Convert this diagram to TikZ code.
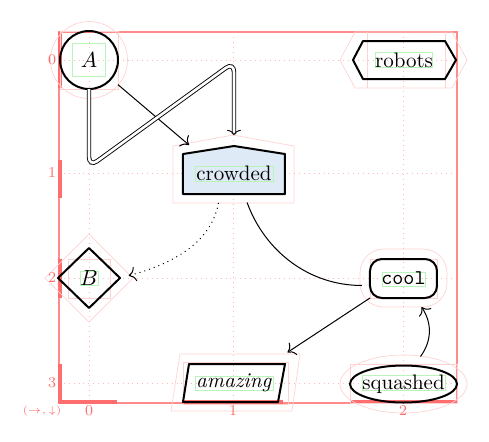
\documentclass[tikz,border=0pt]{standalone}
\usetikzlibrary{arrows.meta,backgrounds}
\definecolor{dbgred}{RGB}{255,110,110}
\definecolor{dbgpink}{RGB}{255,210,210}
\definecolor{dbggrid}{RGB}{255,185,185}
\definecolor{dbggreen}{RGB}{185,245,185}
\definecolor{housefill}{RGB}{222,235,247}
\begin{document}
\begin{tikzpicture}[x=0.5pt,y=-0.5pt,
  shapeline/.style={draw=black, line width=1pt, line join=round},
  dbg/.style={draw=dbgpink, line width=0.35pt},
  txtbox/.style={draw=dbggreen, line width=0.35pt},
  gridline/.style={draw=dbggrid, dotted, line width=0.45pt},
  framebar/.style={draw=dbgred, line width=1.7pt},
  edge/.style={draw=black, line width=0.5pt, -{To[scale=1.3]}},
  dbledge/.style={draw=black, double, double distance=1.3pt, line width=0.45pt, -{To[length=2.6pt,width=7pt]}},
  plainedge/.style={draw=black, line width=0.5pt},
  lbl/.style={text=dbgred, font=\fontsize{7.5}{8}\selectfont, inner sep=0},
  nd/.style={inner sep=0, outer sep=0, font=\fontsize{10.5}{12}\selectfont}]
\useasboundingbox (0,0) rectangle (489,441);

% ---- nodes (text) ----
\node[nd, circle, minimum size=29pt] (A) at (89,60) {$A$};
\node[nd, minimum width=51.5pt, minimum height=19pt] (robots) at (404,60) {robots};
\node[nd, minimum width=51pt, minimum height=21pt] (crowded) at (234,173) {crowded};
\node[nd, minimum width=31pt, minimum height=30pt] (B) at (89,278) {$B$};
\node[nd, minimum width=33.5pt, minimum height=19.5pt] (cool) at (403.5,278.5) {\texttt{cool}};
\node[nd, minimum width=51pt, minimum height=19pt] (amazing) at (234,383) {\textit{amazing}};
\node[nd, minimum width=53.5pt, minimum height=18.5pt] (squashed) at (403.5,384) {squashed};

% ---- labels ----
\node[lbl] (r0) at (52,60) {0};
\node[lbl] (r1) at (52,173) {1};
\node[lbl] (r2) at (52,278) {2};
\node[lbl] (r3) at (52,383) {3};
\node[lbl] (c0) at (89,411) {0};
\node[lbl] (c1) at (233,411) {1};
\node[lbl] (c2) at (403,411) {2};
\node[lbl, font=\fontsize{5.5}{6}\selectfont] (ax) at (42,411) {$(\rightarrow,\downarrow)$};

\begin{scope}[on background layer]
  % grid
  \foreach \yy in {60,173,278,383} \draw[gridline] (59,\yy) -- (457,\yy);
  \foreach \xx in {89,233,403} \draw[gridline] (\xx,32) -- (\xx,403);
  % frame
  \draw[draw=dbgred!80, line width=0.6pt] (59,32) rectangle (457,403);
  \draw[framebar] (60,32) -- (60,88);
  \draw[framebar] (60,160) -- (60,198);
  \draw[framebar] (60,259) -- (60,298);
  \draw[framebar] (60,364) -- (60,403);
  \draw[framebar] (59,402) -- (117,402);
  \draw[framebar] (183,402) -- (283,402);
  \draw[framebar] (350,402) -- (457,402);
  % debug outlines
  \draw[dbg] (89,60) circle[radius=38.5];
  \draw[dbg] (60,31) rectangle (118,89);
  \draw[dbg] (340,60) -- (355,32) -- (452,32) -- (467,60) -- (452,88) -- (355,88) -- cycle;
  \draw[dbg] (367,32) -- (367,88) (445,32) -- (445,88);
  \draw[dbg] (173,203) -- (294,203) -- (294,146) -- (233,135) -- (173,146) -- cycle;
  \draw[dbg] (45,278) -- (89,234) -- (133,278) -- (89,322) -- cycle;
  \draw[dbg] (68,259) rectangle (110,298);
  \draw[dbg, rounded corners=12pt] (360,249) rectangle (447,307);
  \draw[dbg] (370,259) rectangle (437,298);
  \draw[dbg] (403.5,384) ellipse[x radius=63.5, y radius=29];
  \draw[dbg] (350,364) rectangle (457,403);
  \draw[dbg] (180,354) -- (300,354) -- (292,411) -- (171,411) -- cycle;
  \draw[dbg] (183,362) rectangle (288,404);
  % shapes
  \draw[shapeline] (89,60) circle[radius=29];
  \draw[shapeline] (353,60) -- (363,41) -- (445,41) -- (456,60) -- (445,79) -- (363,79) -- cycle;
  \draw[shapeline, fill=housefill] (183,194) -- (285,194) -- (285,154) -- (234,146) -- (183,154) -- cycle;
  \draw[shapeline] (58,278) -- (89,248) -- (120,278) -- (89,308) -- cycle;
  \draw[shapeline, rounded corners=6pt] (370,259) rectangle (437,298);
  \draw[shapeline] (189,364) -- (285,364) -- (278,402) -- (183,402) -- cycle;
  \draw[shapeline] (403.5,384) ellipse[x radius=53.5, y radius=18.5];
  % text boxes
  \draw[txtbox] (72,43) rectangle (105,76);
  \draw[txtbox] (375,52) rectangle (432,67);
  \draw[txtbox] (195,166) rectangle (273,181);
  \draw[txtbox] (80,271) rectangle (98,285);
  \draw[txtbox] (382,272) rectangle (425,286);
  \draw[txtbox] (195,376) rectangle (273,390);
  \draw[txtbox] (362,375) rectangle (445,390);
\end{scope}

% ---- connectors ----
\draw[edge, shorten <=4.5pt] (A) -- ([xshift=3pt,yshift=3.5pt]crowded.north west);
\draw[dbledge, rounded corners=5pt, shorten >=8.5pt]
  (A.south) -- ++(0,78) -- (crowded.north |- 0,62) -- (crowded.north);
\draw[edge, dotted, shorten <=4.5pt, shorten >=4.5pt]
  ([xshift=-7pt]crowded.south) to[out=-100,in=15] (B.east);
\draw[plainedge, shorten <=4.5pt, shorten >=4pt]
  ([xshift=5pt]crowded.south) to[out=-70,in=180] ([yshift=-3.5pt]cool.west);
\draw[edge, shorten >=1.5pt] (cool.south west) -- ([yshift=5pt]amazing.north east);
\draw[edge] ([xshift=8.5pt,yshift=4.5pt]squashed.north) to[bend right=35] ([xshift=9pt,yshift=-4.5pt]cool.south);
\end{tikzpicture}
\end{document}
